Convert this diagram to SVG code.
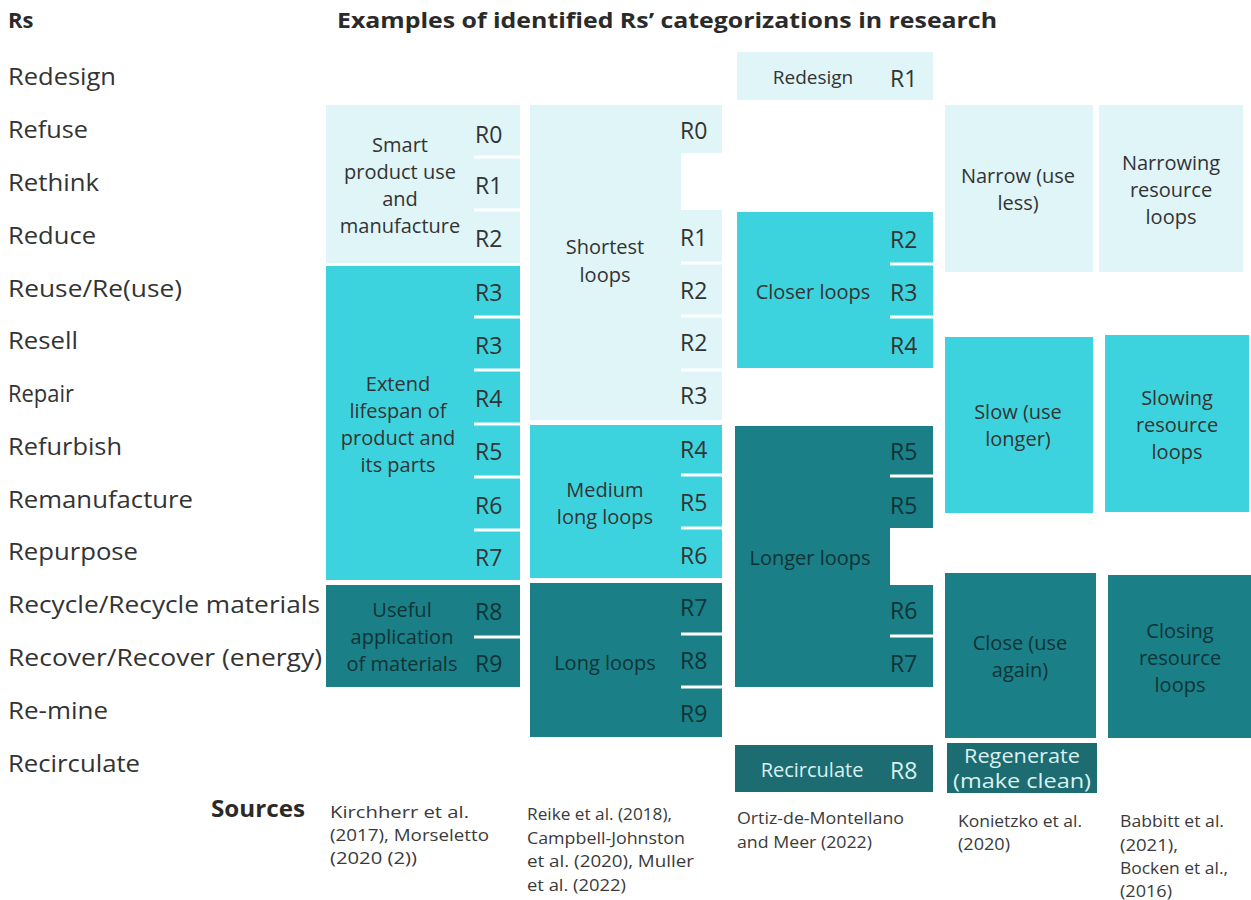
<svg xmlns="http://www.w3.org/2000/svg" width="1251" height="900" viewBox="0 0 1251 900">
  <style>
    text { font-family: "Open Sans", "Liberation Sans", sans-serif; fill: #333333; }
    .hdr { font-weight: bold; font-size: 22px; fill: #2a2a2a; }
    .row { font-size: 23px; fill: #333333; }
    .lbl { font-size: 20px; text-anchor: middle; }
    .rn { font-size: 23px; }
    .src { font-size: 17px; fill: #3a3a3a; }
    .light { fill: #dff5f8; }
    .mid { fill: #3dd3de; }
    .dark { fill: #1a7f86; }
    .deep { fill: #1d6c71; }
    .onDark { fill: #0f3437; }
    .onDeep { fill: #d9f1f1; }
    .sep { stroke: #ffffff; stroke-width: 3; }
  </style>

  <!-- column headings -->
  <g id="headings">
    <text class="hdr" x="8" y="28">Rs</text>
    <text class="hdr" x="337" y="28" textLength="660" lengthAdjust="spacingAndGlyphs">Examples of identified Rs’ categorizations in research</text>
  </g>

  <!-- list of Rs -->
  <g id="rs-list">
    <text class="row" x="8" y="85" textLength="108" lengthAdjust="spacingAndGlyphs">Redesign</text>
    <text class="row" x="8" y="138" textLength="80" lengthAdjust="spacingAndGlyphs">Refuse</text>
    <text class="row" x="8" y="191" textLength="91" lengthAdjust="spacingAndGlyphs">Rethink</text>
    <text class="row" x="8" y="244" textLength="88" lengthAdjust="spacingAndGlyphs">Reduce</text>
    <text class="row" x="8" y="297" textLength="174" lengthAdjust="spacingAndGlyphs">Reuse/Re(use)</text>
    <text class="row" x="8" y="349" textLength="70" lengthAdjust="spacingAndGlyphs">Resell</text>
    <text class="row" x="8" y="402" textLength="66" lengthAdjust="spacingAndGlyphs">Repair</text>
    <text class="row" x="8" y="455" textLength="114" lengthAdjust="spacingAndGlyphs">Refurbish</text>
    <text class="row" x="8" y="508" textLength="185" lengthAdjust="spacingAndGlyphs">Remanufacture</text>
    <text class="row" x="8" y="560" textLength="130" lengthAdjust="spacingAndGlyphs">Repurpose</text>
    <text class="row" x="8" y="613" textLength="312" lengthAdjust="spacingAndGlyphs">Recycle/Recycle materials</text>
    <text class="row" x="8" y="666" textLength="314" lengthAdjust="spacingAndGlyphs">Recover/Recover (energy)</text>
    <text class="row" x="8" y="719" textLength="100" lengthAdjust="spacingAndGlyphs">Re-mine</text>
    <text class="row" x="8" y="772" textLength="132" lengthAdjust="spacingAndGlyphs">Recirculate</text>
  </g>

  <!-- Kirchherr / Morseletto -->
  <g id="smart-use">
    <rect class="light" x="326" y="105" width="194" height="158"/>
    <line class="sep" x1="474" y1="157" x2="520" y2="157"/>
    <line class="sep" x1="474" y1="210" x2="520" y2="210"/>
    <text class="lbl" x="400" y="152">Smart</text>
    <text class="lbl" x="400" y="179">product use</text>
    <text class="lbl" x="400" y="206">and</text>
    <text class="lbl" x="400" y="233">manufacture</text>
    <text class="rn" x="475" y="143">R0</text>
    <text class="rn" x="475" y="194">R1</text>
    <text class="rn" x="475" y="247">R2</text>
  </g>
  <g id="extend-lifespan">
    <rect class="mid" x="326" y="266" width="194" height="314"/>
    <line class="sep" x1="474" y1="317" x2="520" y2="317"/>
    <line class="sep" x1="474" y1="370" x2="520" y2="370"/>
    <line class="sep" x1="474" y1="424" x2="520" y2="424"/>
    <line class="sep" x1="474" y1="477" x2="520" y2="477"/>
    <line class="sep" x1="474" y1="530" x2="520" y2="530"/>
    <text class="lbl" x="398" y="391">Extend</text>
    <text class="lbl" x="398" y="418">lifespan of</text>
    <text class="lbl" x="398" y="445">product and</text>
    <text class="lbl" x="398" y="472">its parts</text>
    <text class="rn" x="475" y="301">R3</text>
    <text class="rn" x="475" y="354">R3</text>
    <text class="rn" x="475" y="407">R4</text>
    <text class="rn" x="475" y="460">R5</text>
    <text class="rn" x="475" y="514">R6</text>
    <text class="rn" x="475" y="566">R7</text>
  </g>
  <g id="useful-application">
    <rect class="dark" x="326" y="585" width="194" height="102"/>
    <line class="sep" x1="474" y1="637" x2="520" y2="637"/>
    <text class="lbl onDark" x="402" y="617">Useful</text>
    <text class="lbl onDark" x="402" y="644">application</text>
    <text class="lbl onDark" x="402" y="671">of materials</text>
    <text class="rn onDark" x="475" y="620">R8</text>
    <text class="rn onDark" x="475" y="672">R9</text>
  </g>

  <!-- Reike / Campbell-Johnston / Muller -->
  <g id="shortest-loops">
    <path class="light" d="M530,105 H722 V153 H681 V210 H722 V420 H530 Z"/>
    <line class="sep" x1="681" y1="263" x2="722" y2="263"/>
    <line class="sep" x1="681" y1="316" x2="722" y2="316"/>
    <line class="sep" x1="681" y1="370" x2="722" y2="370"/>
    <text class="lbl" x="605" y="254">Shortest</text>
    <text class="lbl" x="605" y="282">loops</text>
    <text class="rn" x="680" y="139">R0</text>
    <text class="rn" x="680" y="246">R1</text>
    <text class="rn" x="680" y="299">R2</text>
    <text class="rn" x="680" y="351">R2</text>
    <text class="rn" x="680" y="404">R3</text>
  </g>
  <g id="medium-long-loops">
    <rect class="mid" x="530" y="425" width="192" height="153"/>
    <line class="sep" x1="681" y1="475" x2="722" y2="475"/>
    <line class="sep" x1="681" y1="528" x2="722" y2="528"/>
    <text class="lbl" x="605" y="497">Medium</text>
    <text class="lbl" x="605" y="524">long loops</text>
    <text class="rn" x="680" y="458">R4</text>
    <text class="rn" x="680" y="511">R5</text>
    <text class="rn" x="680" y="564">R6</text>
  </g>
  <g id="long-loops">
    <rect class="dark" x="530" y="583" width="192" height="154"/>
    <line class="sep" x1="681" y1="634" x2="722" y2="634"/>
    <line class="sep" x1="681" y1="687" x2="722" y2="687"/>
    <text class="lbl onDark" x="605" y="670">Long loops</text>
    <text class="rn onDark" x="680" y="616">R7</text>
    <text class="rn onDark" x="680" y="669">R8</text>
    <text class="rn onDark" x="680" y="722">R9</text>
  </g>

  <!-- Ortiz-de-Montellano and Meer -->
  <g id="redesign">
    <rect class="light" x="737" y="52" width="196" height="48"/>
    <text class="lbl" x="813" y="84" style="font-size:19px">Redesign</text>
    <text class="rn" x="890" y="87">R1</text>
  </g>
  <g id="closer-loops">
    <rect class="mid" x="737" y="212" width="196" height="156"/>
    <line class="sep" x1="890" y1="264" x2="933" y2="264"/>
    <line class="sep" x1="890" y1="317" x2="933" y2="317"/>
    <text class="lbl" x="813" y="299">Closer loops</text>
    <text class="rn" x="890" y="248">R2</text>
    <text class="rn" x="890" y="301">R3</text>
    <text class="rn" x="890" y="354">R4</text>
  </g>
  <g id="longer-loops">
    <path class="dark" d="M735,426 H933 V528 H890 V585 H933 V687 H735 Z"/>
    <line class="sep" x1="890" y1="476" x2="933" y2="476"/>
    <line class="sep" x1="890" y1="636" x2="933" y2="636"/>
    <text class="lbl onDark" x="810" y="565">Longer loops</text>
    <text class="rn onDark" x="890" y="460">R5</text>
    <text class="rn onDark" x="890" y="514">R5</text>
    <text class="rn onDark" x="890" y="619">R6</text>
    <text class="rn onDark" x="890" y="672">R7</text>
  </g>
  <g id="recirculate">
    <rect class="deep" x="735" y="745" width="198" height="47"/>
    <text class="lbl onDeep" x="812" y="777">Recirculate</text>
    <text class="rn onDeep" x="890" y="779">R8</text>
  </g>

  <!-- Konietzko -->
  <g id="narrow">
    <rect class="light" x="945" y="105" width="148" height="167"/>
    <text class="lbl" x="1018" y="183">Narrow (use</text>
    <text class="lbl" x="1018" y="210">less)</text>
  </g>
  <g id="slow">
    <rect class="mid" x="945" y="337" width="148" height="176"/>
    <text class="lbl" x="1018" y="419">Slow (use</text>
    <text class="lbl" x="1018" y="446">longer)</text>
  </g>
  <g id="close">
    <rect class="dark" x="945" y="573" width="151" height="165"/>
    <text class="lbl onDark" x="1020" y="650">Close (use</text>
    <text class="lbl onDark" x="1020" y="677">again)</text>
  </g>
  <g id="regenerate">
    <rect class="deep" x="947" y="743" width="150" height="50"/>
    <text class="lbl onDeep" x="1022" y="763" textLength="116" lengthAdjust="spacingAndGlyphs">Regenerate</text>
    <text class="lbl onDeep" x="1022" y="788" textLength="138" lengthAdjust="spacingAndGlyphs">(make clean)</text>
  </g>

  <!-- Babbitt / Bocken -->
  <g id="narrowing-loops">
    <rect class="light" x="1099" y="105" width="144" height="167"/>
    <text class="lbl" x="1171" y="170">Narrowing</text>
    <text class="lbl" x="1171" y="197">resource</text>
    <text class="lbl" x="1171" y="224">loops</text>
  </g>
  <g id="slowing-loops">
    <rect class="mid" x="1105" y="335" width="144" height="177"/>
    <text class="lbl" x="1177" y="405">Slowing</text>
    <text class="lbl" x="1177" y="432">resource</text>
    <text class="lbl" x="1177" y="459">loops</text>
  </g>
  <g id="closing-loops">
    <rect class="dark" x="1108" y="575" width="143" height="163"/>
    <text class="lbl onDark" x="1180" y="638">Closing</text>
    <text class="lbl onDark" x="1180" y="665">resource</text>
    <text class="lbl onDark" x="1180" y="692">loops</text>
  </g>

  <!-- sources -->
  <g id="sources">
    <text class="hdr" x="211" y="817" style="font-size:23px" textLength="94" lengthAdjust="spacingAndGlyphs">Sources</text>
    <text class="src" x="330" y="818" textLength="139" lengthAdjust="spacingAndGlyphs">Kirchherr et al.</text>
    <text class="src" x="330" y="841" textLength="159" lengthAdjust="spacingAndGlyphs">(2017), Morseletto</text>
    <text class="src" x="330" y="864" textLength="87" lengthAdjust="spacingAndGlyphs">(2020 (2))</text>
    <text class="src" x="527" y="820" textLength="145" lengthAdjust="spacingAndGlyphs">Reike et al. (2018),</text>
    <text class="src" x="527" y="844" textLength="158" lengthAdjust="spacingAndGlyphs">Campbell-Johnston</text>
    <text class="src" x="527" y="867" textLength="167" lengthAdjust="spacingAndGlyphs">et al. (2020), Muller</text>
    <text class="src" x="527" y="891" textLength="99" lengthAdjust="spacingAndGlyphs">et al. (2022)</text>
    <text class="src" x="737" y="824" textLength="167" lengthAdjust="spacingAndGlyphs">Ortiz-de-Montellano</text>
    <text class="src" x="737" y="848" textLength="135" lengthAdjust="spacingAndGlyphs">and Meer (2022)</text>
    <text class="src" x="958" y="827" textLength="124" lengthAdjust="spacingAndGlyphs">Konietzko et al.</text>
    <text class="src" x="958" y="850" textLength="52" lengthAdjust="spacingAndGlyphs">(2020)</text>
    <text class="src" x="1120" y="827" textLength="104" lengthAdjust="spacingAndGlyphs">Babbitt et al.</text>
    <text class="src" x="1120" y="851" textLength="58" lengthAdjust="spacingAndGlyphs">(2021),</text>
    <text class="src" x="1120" y="874" textLength="108" lengthAdjust="spacingAndGlyphs">Bocken et al.,</text>
    <text class="src" x="1120" y="897" textLength="52" lengthAdjust="spacingAndGlyphs">(2016)</text>
  </g>
</svg>
